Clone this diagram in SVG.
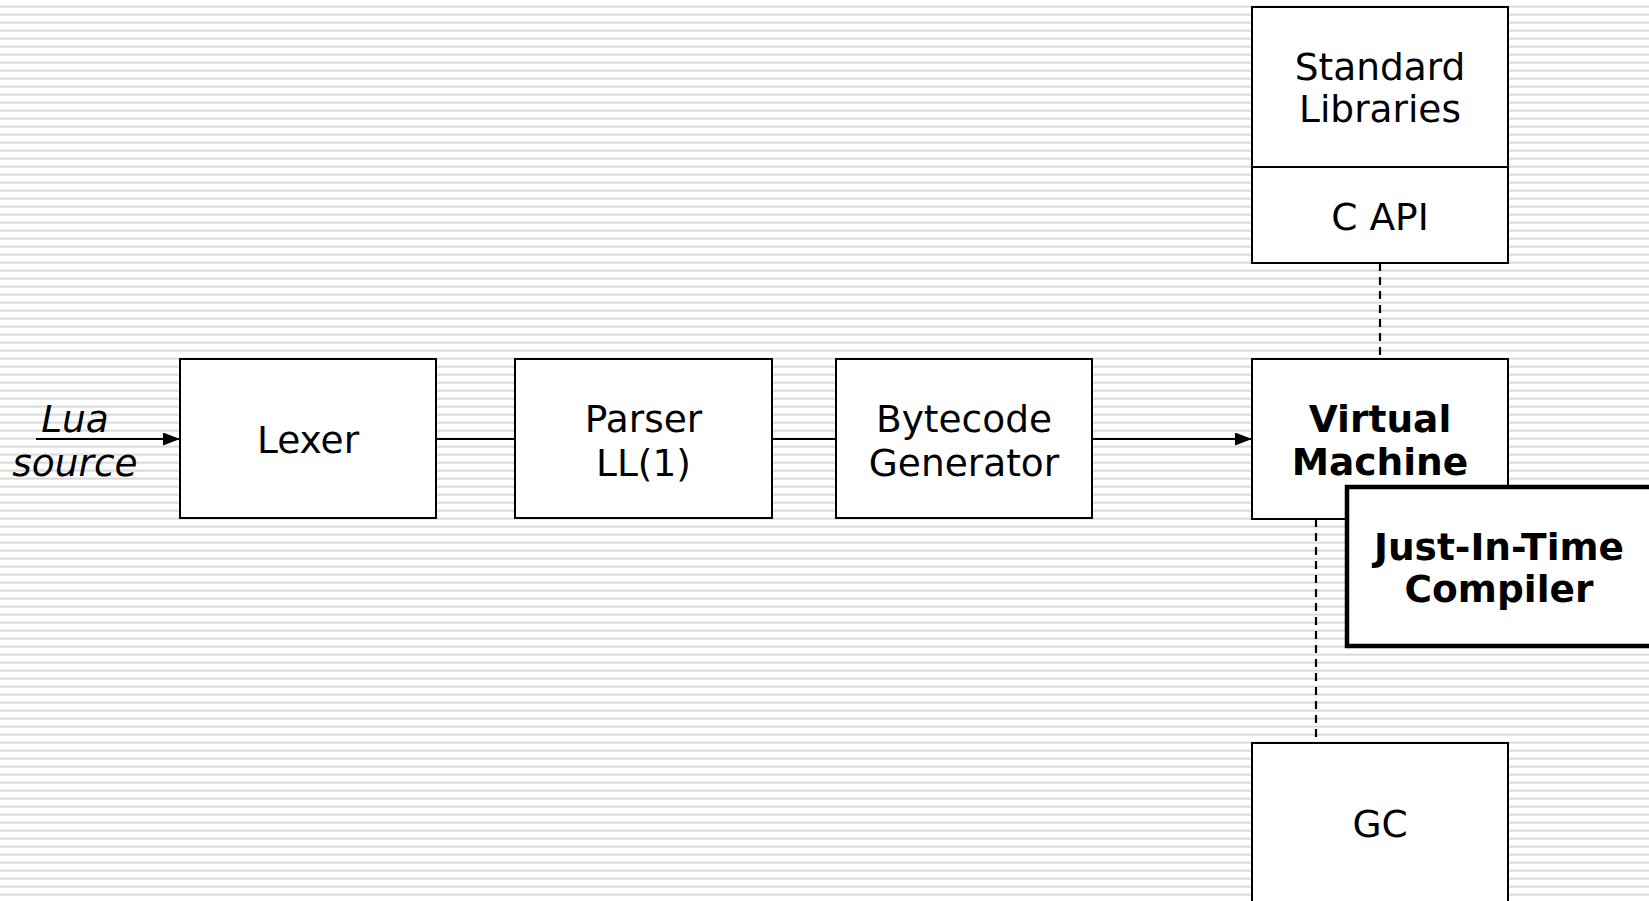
<svg xmlns="http://www.w3.org/2000/svg" width="1649" height="901" viewBox="0 0 1649 901">
  <style>
    .box { fill: #ffffff; stroke: #000000; stroke-width: 2; }
    .jit { fill: #ffffff; stroke: #000000; stroke-width: 4.5; }
    .t { font-family: "DejaVu Sans", sans-serif; font-size: 37.5px; fill: #000000; text-anchor: middle; }
    .b { font-weight: bold; }
    .i { font-style: italic; }
    .edge { stroke: #000000; stroke-width: 2; fill: none; }
    .dash { stroke: #000000; stroke-width: 2.2; fill: none; stroke-dasharray: 8 6; }
  </style>
  <defs>
    <pattern id="stripes" x="0" y="0" width="8" height="8" patternUnits="userSpaceOnUse">
      <rect x="0" y="0" width="8" height="8" fill="#ffffff"/>
      <rect x="0" y="5" width="8" height="1" fill="#eeeeee"/>
      <rect x="0" y="6" width="8" height="1" fill="#dadada"/>
      <rect x="0" y="7" width="8" height="1" fill="#e6e6e6"/>
    </pattern>
    <marker id="arrow" markerWidth="17" markerHeight="13" refX="17" refY="6.5" orient="auto" markerUnits="userSpaceOnUse">
      <path d="M0,0 L17,6.5 L0,13 z" fill="#000000"/>
    </marker>
  </defs>
  <rect x="0" y="0" width="1649" height="901" fill="url(#stripes)"/>

  <g id="connectors">
    <line class="edge" x1="36" y1="439" x2="180" y2="439" marker-end="url(#arrow)"/>
    <line class="edge" x1="436" y1="439" x2="515" y2="439"/>
    <line class="edge" x1="772" y1="439" x2="836" y2="439"/>
    <line class="edge" x1="1092" y1="439" x2="1252" y2="439" marker-end="url(#arrow)"/>
    <line class="dash" x1="1380" y1="263" x2="1380" y2="359"/>
    <line class="dash" x1="1316" y1="519" x2="1316" y2="743"/>
  </g>

  <g id="lua-source">
    <text class="t i" x="75" y="432">Lua</text>
    <text class="t i" x="75" y="476">source</text>
  </g>

  <g id="lexer">
    <rect class="box" x="180" y="359" width="256" height="159"/>
    <text class="t" x="308" y="453">Lexer</text>
  </g>

  <g id="parser">
    <rect class="box" x="515" y="359" width="257" height="159"/>
    <text class="t" x="643.5" y="432">Parser</text>
    <text class="t" x="643.5" y="476">LL(1)</text>
  </g>

  <g id="bytecode-generator">
    <rect class="box" x="836" y="359" width="256" height="159"/>
    <text class="t" x="964" y="432">Bytecode</text>
    <text class="t" x="964" y="476">Generator</text>
  </g>

  <g id="standard-libraries">
    <rect class="box" x="1252" y="7" width="256" height="160"/>
    <text class="t" x="1380" y="80">Standard</text>
    <text class="t" x="1380" y="122">Libraries</text>
  </g>

  <g id="c-api">
    <rect class="box" x="1252" y="167" width="256" height="96"/>
    <text class="t" x="1380" y="230">C API</text>
  </g>

  <g id="virtual-machine">
    <rect class="box" x="1252" y="359" width="256" height="160"/>
    <text class="t b" x="1380" y="432">Virtual</text>
    <text class="t b" x="1380" y="475">Machine</text>
  </g>

  <g id="jit-compiler">
    <rect class="jit" x="1347" y="487" width="310" height="159"/>
    <text class="t b" x="1499" y="560">Just-In-Time</text>
    <text class="t b" x="1499" y="602">Compiler</text>
  </g>

  <g id="gc">
    <rect class="box" x="1252" y="743" width="256" height="170"/>
    <text class="t" x="1380" y="837">GC</text>
  </g>
</svg>
